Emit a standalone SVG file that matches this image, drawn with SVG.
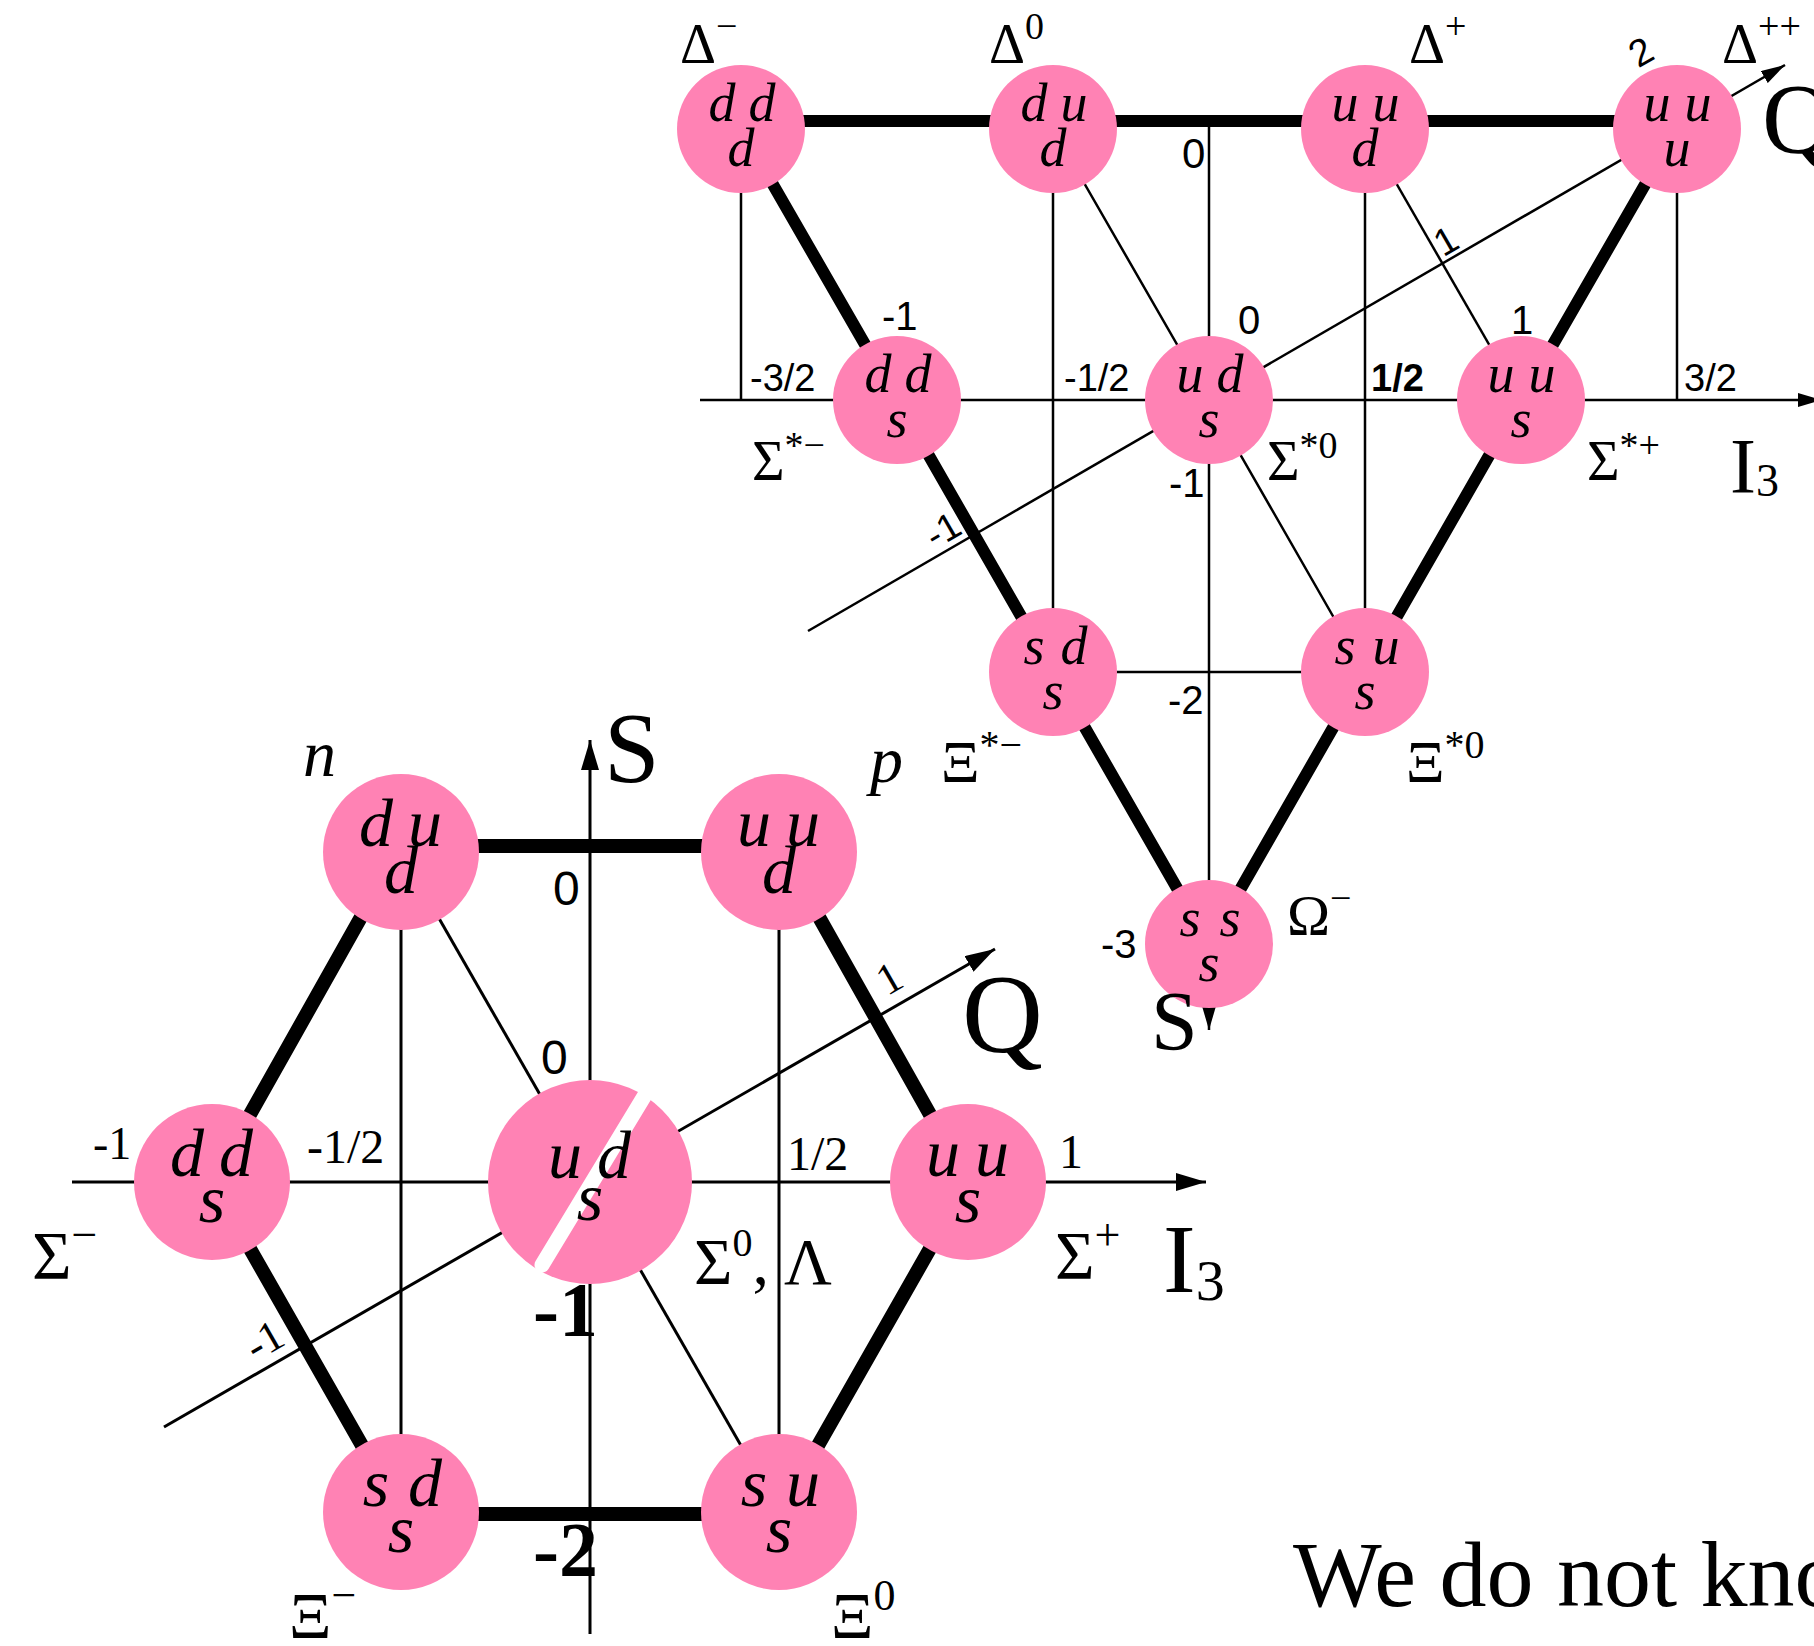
<svg xmlns="http://www.w3.org/2000/svg" width="1814" height="1646" viewBox="0 0 1814 1646">
<defs>
<marker id="ah" viewBox="0 0 24 14" refX="24" refY="7" markerWidth="24" markerHeight="14" orient="auto" markerUnits="userSpaceOnUse"><path d="M0,0 L24,7 L0,14 z" fill="#000"/></marker>
<marker id="ahb" viewBox="0 0 30 18" refX="30" refY="9" markerWidth="30" markerHeight="18" orient="auto" markerUnits="userSpaceOnUse"><path d="M0,0 L30,9 L0,18 z" fill="#000"/></marker>
</defs>
<style>
.nd{fill:#FF82B4}
.q{font-family:"Liberation Serif",serif;font-style:italic;text-anchor:middle;fill:#000}
.qt{font-size:54px}
.qo{font-size:68px}
.thin{stroke:#000;stroke-width:2.5;fill:none}
.thin8{stroke:#000;stroke-width:3;fill:none}
.thick{stroke:#000;stroke-width:12;fill:none}
.thick8{stroke:#000;stroke-width:14;fill:none;stroke-linejoin:miter}
.gr{font-family:"Liberation Serif",serif;fill:#000}
.sn{font-family:"Liberation Sans",sans-serif;fill:#000}
.big{font-family:"Liberation Serif",serif;fill:#000}
.it{font-style:italic}
</style>

<g id="under-labels">
<text class="big" x="533" y="1336" font-size="78" font-weight="bold">-1</text>
<text class="big" x="533" y="1576" font-size="78" font-weight="bold">-2</text>
</g>

<g id="connectors">
<line class="thin" x1="741" y1="121" x2="741" y2="400"/>
<line class="thin" x1="1053" y1="121" x2="1053" y2="672"/>
<line class="thin" x1="1365" y1="121" x2="1365" y2="672"/>
<line class="thin" x1="1677" y1="121" x2="1677" y2="400"/>
<line class="thin" x1="1209" y1="121" x2="1209" y2="1030" marker-end="url(#ah)"/>
<line class="thin" x1="700" y1="400" x2="1822" y2="400" marker-end="url(#ah)"/>
<line class="thin" x1="1053" y1="672" x2="1365" y2="672"/>
<polyline class="thin" points="1053,129 1209,400 1365,672"/>
<line class="thin" x1="1365" y1="129" x2="1521" y2="400"/>
<line class="thin" x1="808" y1="631" x2="1785" y2="65" marker-end="url(#ah)"/>
<line class="thick" x1="741" y1="121" x2="1677" y2="121"/>
<polyline class="thick" points="741,129 897,400 1053,672 1209,944"/>
<polyline class="thick" points="1677,129 1521,400 1365,672 1209,944"/>
<line class="thin8" x1="401" y1="852" x2="401" y2="1512"/>
<line class="thin8" x1="779" y1="852" x2="779" y2="1512"/>
<polyline class="thin8" points="401,852 590,1182 779,1512"/>
<line class="thin8" x1="590" y1="1634" x2="590" y2="740" marker-end="url(#ahb)"/>
<line class="thin8" x1="72" y1="1182" x2="1206" y2="1182" marker-end="url(#ahb)"/>
<line class="thin8" x1="164" y1="1427" x2="995" y2="949" marker-end="url(#ahb)"/>
<polygon class="thick8" points="401,846 779,846 968,1182 779,1514 401,1514 212,1182"/>
</g>

<g id="decuplet-nodes">
<g id="n-ddd"><circle class="nd" cx="741" cy="129" r="64"/><text class="q qt" x="722 762" y="121">dd</text><text class="q qt" x="741" y="166">d</text></g>
<g id="n-dud"><circle class="nd" cx="1053" cy="129" r="64"/><text class="q qt" x="1034 1074" y="121">du</text><text class="q qt" x="1053" y="166">d</text></g>
<g id="n-uud"><circle class="nd" cx="1365" cy="129" r="64"/><text class="q qt" x="1345 1386" y="121">uu</text><text class="q qt" x="1365" y="166">d</text></g>
<g id="n-uuu"><circle class="nd" cx="1677" cy="129" r="64"/><text class="q qt" x="1657 1698" y="121">uu</text><text class="q qt" x="1677" y="166">u</text></g>
<g id="n-dds"><circle class="nd" cx="897" cy="400" r="64"/><text class="q qt" x="878 918" y="392">dd</text><text class="q qt" x="897" y="437">s</text></g>
<g id="n-uds"><circle class="nd" cx="1209" cy="400" r="64"/><text class="q qt" x="1190 1230" y="392">ud</text><text class="q qt" x="1209" y="437">s</text></g>
<g id="n-uus"><circle class="nd" cx="1521" cy="400" r="64"/><text class="q qt" x="1501 1542" y="392">uu</text><text class="q qt" x="1521" y="437">s</text></g>
<g id="n-sds"><circle class="nd" cx="1053" cy="672" r="64"/><text class="q qt" x="1034 1074" y="664">sd</text><text class="q qt" x="1053" y="709">s</text></g>
<g id="n-sus"><circle class="nd" cx="1365" cy="672" r="64"/><text class="q qt" x="1345 1386" y="664">su</text><text class="q qt" x="1365" y="709">s</text></g>
<g id="n-sss"><circle class="nd" cx="1209" cy="944" r="64"/><text class="q qt" x="1190 1230" y="936">ss</text><text class="q qt" x="1209" y="981">s</text></g>
</g>

<g id="octet-nodes">
<g id="o-dud"><circle class="nd" cx="401" cy="852" r="78"/><text class="q qo" x="376 425" y="846">du</text><text class="q qo" x="401" y="893">d</text></g>
<g id="o-uud"><circle class="nd" cx="779" cy="852" r="78"/><text class="q qo" x="754 803" y="846">uu</text><text class="q qo" x="779" y="893">d</text></g>
<g id="o-dds"><circle class="nd" cx="212" cy="1182" r="78"/><text class="q qo" x="187 236" y="1176">dd</text><text class="q qo" x="212" y="1222">s</text></g>
<g id="o-uds"><circle class="nd" cx="590" cy="1182" r="102"/><line x1="648" y1="1090" x2="542" y2="1265" stroke="#fff" stroke-width="15" stroke-linecap="round"/><text class="q qo" x="565 614" y="1178">ud</text><text class="q qo" x="590" y="1220">s</text></g>
<g id="o-uus"><circle class="nd" cx="968" cy="1182" r="78"/><text class="q qo" x="943 992" y="1176">uu</text><text class="q qo" x="968" y="1222">s</text></g>
<g id="o-sds"><circle class="nd" cx="401" cy="1512" r="78"/><text class="q qo" x="376 425" y="1506">sd</text><text class="q qo" x="401" y="1552">s</text></g>
<g id="o-sus"><circle class="nd" cx="779" cy="1512" r="78"/><text class="q qo" x="754 803" y="1506">su</text><text class="q qo" x="779" y="1552">s</text></g>
</g>

<g id="decuplet-labels">
<text class="gr" x="680" y="63" font-size="56">Δ<tspan dy="-24" font-size="38">−</tspan></text>
<text class="gr" x="989" y="63" font-size="56">Δ<tspan dy="-24" font-size="38">0</tspan></text>
<text class="gr" x="1409" y="63" font-size="56">Δ<tspan dy="-24" font-size="38">+</tspan></text>
<text class="gr" x="1722" y="63" font-size="56">Δ<tspan dy="-24" font-size="38">++</tspan></text>
<text class="sn" x="1641" y="52" font-size="38" text-anchor="middle" transform="rotate(-30 1641 52)" dy="13">2</text>
<text class="sn" x="1446" y="241" font-size="38" text-anchor="middle" transform="rotate(-30 1446 241)" dy="13">1</text>
<text class="sn" x="943" y="530" font-size="38" text-anchor="middle" transform="rotate(-30 943 530)" dy="13">-1</text>
<text class="sn" x="1182" y="168" font-size="42">0</text>
<text class="sn" x="882" y="330" font-size="40">-1</text>
<text class="sn" x="1238" y="334" font-size="40">0</text>
<text class="sn" x="1511" y="334" font-size="40">1</text>
<text class="sn" x="750" y="391" font-size="38">-3/2</text>
<text class="sn" x="1064" y="391" font-size="38">-1/2</text>
<text class="sn" x="1371" y="391" font-size="38" font-weight="bold">1/2</text>
<text class="sn" x="1684" y="391" font-size="38">3/2</text>
<text class="gr" x="752" y="480" font-size="56">Σ<tspan dy="-22" font-size="38">*−</tspan></text>
<text class="gr" x="1267" y="480" font-size="56">Σ<tspan dy="-22" font-size="38">*0</tspan></text>
<text class="gr" x="1587" y="480" font-size="56">Σ<tspan dy="-22" font-size="38">*+</tspan></text>
<text class="big" x="1730" y="492" font-size="78">I<tspan dy="4" font-size="46">3</tspan></text>
<text class="big" x="1762" y="152" font-size="100">Q</text>
<text class="sn" x="1169" y="497" font-size="40">-1</text>
<text class="sn" x="1168" y="714" font-size="40">-2</text>
<text class="sn" x="1101" y="958" font-size="40">-3</text>
<text class="gr" x="941" y="782" font-size="60">Ξ<tspan dy="-24" font-size="40">*−</tspan></text>
<text class="gr" x="1406" y="782" font-size="60">Ξ<tspan dy="-24" font-size="40">*0</tspan></text>
<text class="gr" x="1287" y="935" font-size="58">Ω<tspan dy="-24" font-size="38">−</tspan></text>
<text class="big" x="1151" y="1050" font-size="84">S</text>
</g>

<g id="octet-labels">
<text class="big it" x="303" y="776" font-size="66">n</text>
<text class="big" x="604" y="781" font-size="100">S</text>
<text class="big it" x="870" y="782" font-size="66">p</text>
<text class="sn" x="553" y="905" font-size="48">0</text>
<text class="sn" x="541" y="1074" font-size="48">0</text>
<text class="gr" x="93" y="1159" font-size="46">-1</text>
<text class="gr" x="307" y="1163" font-size="48">-1/2</text>
<text class="gr" x="787" y="1170" font-size="48">1/2</text>
<text class="gr" x="1059" y="1168" font-size="48">1</text>
<text class="gr" x="889" y="978" font-size="44" text-anchor="middle" transform="rotate(-30 889 978)" dy="15">1</text>
<text class="gr" x="264" y="1340" font-size="44" text-anchor="middle" transform="rotate(-30 264 1340)" dy="15">-1</text>
<text class="big" x="962" y="1052" font-size="112">Q</text>
<text class="gr" x="32" y="1278" font-size="68">Σ<tspan dy="-28" font-size="46">−</tspan></text>
<text class="gr" x="694" y="1284" font-size="66">Σ<tspan dy="-28" font-size="40">0</tspan><tspan dy="28">,</tspan><tspan x="784">Λ</tspan></text>
<text class="gr" x="1055" y="1278" font-size="68">Σ<tspan dy="-28" font-size="46">+</tspan></text>
<text class="big" x="1163" y="1292" font-size="98">I<tspan dy="8" font-size="58">3</tspan></text>
<text class="gr" x="289" y="1638" font-size="66">Ξ<tspan dy="-28" font-size="44">−</tspan></text>
<text class="gr" x="831" y="1638" font-size="66">Ξ<tspan dy="-28" font-size="44">0</tspan></text>
</g>

<text class="big" x="1293" y="1606" font-size="94">We do not kno</text>
</svg>
